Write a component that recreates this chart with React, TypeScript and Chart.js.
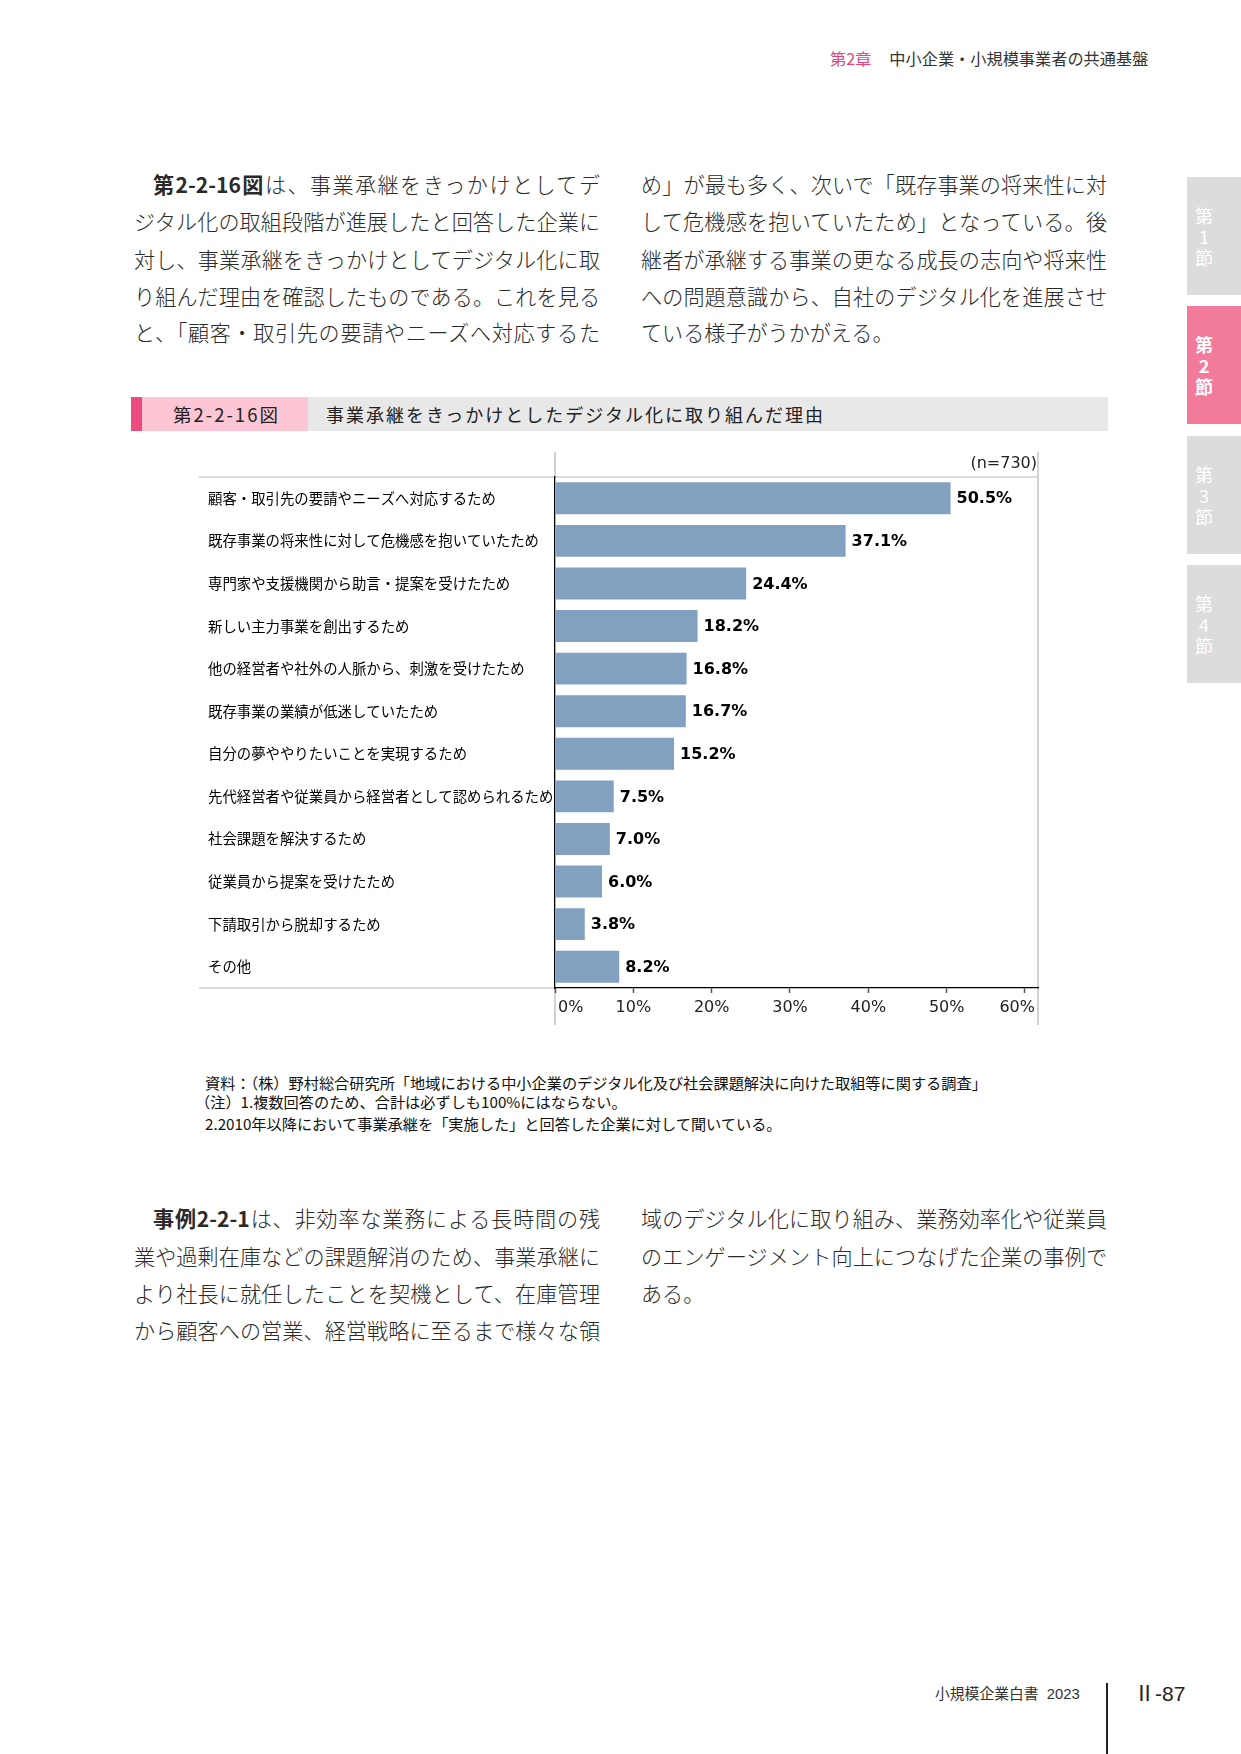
import React, { useEffect, useRef } from "react";
import { Chart, registerables } from "chart.js";

Chart.register(...registerables);

const categories = [
  "顧客・取引先の要請やニーズへ対応するため",
  "既存事業の将来性に対して危機感を抱いていたため",
  "専門家や支援機関から助言・提案を受けたため",
  "新しい主力事業を創出するため",
  "他の経営者や社外の人脈から、刺激を受けたため",
  "既存事業の業績が低迷していたため",
  "自分の夢ややりたいことを実現するため",
  "先代経営者や従業員から経営者として認められるため",
  "社会課題を解決するため",
  "従業員から提案を受けたため",
  "下請取引から脱却するため",
  "その他",
];
const values = [50.5, 37.1, 24.4, 18.2, 16.8, 16.7, 15.2, 7.5, 7.0, 6.0, 3.8, 8.2];
const xTickValues = [0, 10, 20, 30, 40, 50, 60];
const sampleNote = "(n=730)";

const para1Left = [
  "ジタル化の取組段階が進展したと回答した企業に",
  "対し、事業承継をきっかけとしてデジタル化に取",
  "り組んだ理由を確認したものである。これを見る",
  "と、「顧客・取引先の要請やニーズへ対応するた",
];
const para1Right = [
  "め」が最も多く、次いで「既存事業の将来性に対",
  "して危機感を抱いていたため」となっている。後",
  "継者が承継する事業の更なる成長の志向や将来性",
  "への問題意識から、自社のデジタル化を進展させ",
  "ている様子がうかがえる。",
];
const para2Left = [
  "業や過剰在庫などの課題解消のため、事業承継に",
  "より社長に就任したことを契機として、在庫管理",
  "から顧客への営業、経営戦略に至るまで様々な領",
];
const para2Right = [
  "域のデジタル化に取り組み、業務効率化や従業員",
  "のエンゲージメント向上につなげた企業の事例で",
  "ある。",
];
const notes = [
  "資料：（株）野村総合研究所「地域における中小企業のデジタル化及び社会課題解決に向けた取組等に関する調査」",
  "（注）1.複数回答のため、合計は必ずしも100%にはならない。",
  "2.2010年以降において事業承継を「実施した」と回答した企業に対して聞いている。",
];

const JP = '"Noto Sans CJK JP", sans-serif';
const LH = 37.2;

function Line(props: { x: number; y: number; full?: boolean; children: React.ReactNode; indent?: number }) {
  return (
    <div
      style={{
        position: "absolute",
        left: props.x,
        top: props.y - LH / 2,
        width: 466,
        paddingLeft: props.indent || 0,
        boxSizing: "border-box",
        fontSize: 21.1,
        fontWeight: 300,
        lineHeight: LH + "px",
        whiteSpace: "nowrap",
        textAlign: props.full === false ? "left" : "justify",
        textAlignLast: props.full === false ? "left" : "justify",
        color: "#2a2a2a",
      } as React.CSSProperties}
    >
      {props.children}
    </div>
  );
}

function Tab(props: { top: number; num: string; active?: boolean }) {
  return (
    <div
      style={{
        position: "absolute",
        left: 1187,
        top: props.top,
        width: 54,
        height: 118,
        background: props.active ? "#f27b9c" : "#dcdcdc",
        display: "flex",
        alignItems: "center",
      }}
    >
      <div
        style={{
          marginLeft: 8,
          width: 18,
          textAlign: "center",
          color: "#fff",
          fontSize: 18,
          lineHeight: "21px",
          fontWeight: props.active ? 700 : 400,
        }}
      >
        <div>第</div>
        <div>{props.num}</div>
        <div>節</div>
      </div>
    </div>
  );
}

const framePlugin = {
  id: "frame",
  beforeDraw(chart: any) {
    const ctx = chart.ctx;
    const a = chart.chartArea;
    ctx.save();
    ctx.strokeStyle = "#d2d2d2";
    ctx.lineWidth = 2;
    ctx.beginPath();
    ctx.moveTo(a.left, a.top - 25);
    ctx.lineTo(a.left, a.top);
    ctx.moveTo(a.left, a.bottom);
    ctx.lineTo(a.left, a.bottom + 37);
    ctx.moveTo(a.right, a.top - 25);
    ctx.lineTo(a.right, a.bottom + 37);
    ctx.stroke();
    ctx.lineWidth = 1.5;
    ctx.beginPath();
    ctx.moveTo(9, a.top);
    ctx.lineTo(a.right, a.top);
    ctx.moveTo(9, a.bottom);
    ctx.lineTo(a.left, a.bottom);
    ctx.stroke();
    ctx.restore();
  },
  afterDraw(chart: any) {
    const ctx = chart.ctx;
    const a = chart.chartArea;
    const xs = chart.scales.x;
    ctx.save();
    ctx.fillStyle = "#222";
    ctx.font = '16px "DejaVu Sans"';
    ctx.textBaseline = "middle";
    ctx.textAlign = "right";
    ctx.fillText(sampleNote, a.right - 1, a.top - 13);
    const ticks = xs.ticks;
    ticks.forEach((t: any, i: number) => {
      const px = xs.getPixelForValue(t.value);
      let x = px;
      let align: CanvasTextAlign = "center";
      if (i === 0) {
        align = "left";
        x = px + 3;
      } else if (i === ticks.length - 1) {
        align = "right";
        x = a.right - 3;
      }
      ctx.textAlign = align;
      ctx.fillText(t.value + "%", x, a.bottom + 20);
    });
    ctx.restore();
  },
};

const valueLabelPlugin = {
  id: "valueLabels",
  afterDatasetsDraw(chart: any) {
    const ctx = chart.ctx;
    const meta = chart.getDatasetMeta(0);
    ctx.save();
    ctx.font = 'bold 16px "DejaVu Sans"';
    ctx.fillStyle = "#000";
    ctx.textAlign = "left";
    ctx.textBaseline = "middle";
    meta.data.forEach((el: any, i: number) => {
      ctx.fillText(values[i].toFixed(1) + "%", el.x + 6, el.y + 1);
    });
    ctx.restore();
  },
};

function BarChart() {
  const ref = useRef<HTMLCanvasElement>(null);
  useEffect(() => {
    const canvas = ref.current!;
    const chart = new Chart(canvas, {
      type: "bar",
      data: {
        labels: categories,
        datasets: [
          {
            data: values,
            backgroundColor: "#82a1c1",
            borderWidth: 0,
            barPercentage: 0.75,
            categoryPercentage: 1,
          },
        ],
      },
      options: {
        indexAxis: "y",
        responsive: false,
        animation: false,
        devicePixelRatio: 1,
        layout: { padding: { left: 18, top: 37, right: 12, bottom: 12 } },
        plugins: { legend: { display: false }, tooltip: { enabled: false } },
        scales: {
          x: {
            min: 0,
            max: 61.66,
            afterBuildTicks: (s: any) => {
              s.ticks = xTickValues.map((v) => ({ value: v }));
            },
            afterFit: (s: any) => {
              s.height = 40;
            },
            grid: {
              drawOnChartArea: false,
              drawTicks: true,
              tickLength: 5,
              tickColor: "#555",
              tickWidth: 1.5,
            },
            border: { color: "#000", width: 1.3 },
            ticks: { display: false },
          },
          y: {
            afterFit: (s: any) => {
              s.width = 347;
            },
            grid: { display: false },
            border: { color: "#000", width: 1.3 },
            ticks: {
              crossAlign: "far",
              padding: 0,
              color: "#000",
              font: { family: '"Noto Sans CJK JP"', size: 14.4 },
            },
          },
        },
      } as any,
      plugins: [framePlugin, valueLabelPlugin],
    });
    return () => chart.destroy();
  }, []);
  return (
    <canvas
      ref={ref}
      width={860}
      height={600}
      style={{ position: "absolute", left: 190, top: 440, width: 860, height: 600 }}
    />
  );
}

export default function App() {
  const ys1 = [185, 222, 260, 297, 333];
  const ys2 = [1219, 1257, 1294, 1331];
  return (
    <div
      style={{
        position: "absolute",
        left: 0,
        top: 0,
        width: 1241,
        height: 1754,
        background: "#fff",
        fontFamily: JP,
        overflow: "hidden",
      }}
    >
      {/* header */}
      <div style={{ position: "absolute", left: 830, top: 47, fontSize: 16.2, lineHeight: "22px", whiteSpace: "nowrap" }}>
        <span style={{ color: "#e8437a" }}>第2章</span>
        <span style={{ color: "#333", marginLeft: 18 }}>中小企業・小規模事業者の共通基盤</span>
      </div>

      {/* side tabs */}
      <Tab top={177} num="1" />
      <Tab top={306} num="2" active />
      <Tab top={436} num="3" />
      <Tab top={565} num="4" />

      {/* paragraph 1 */}
      <Line x={134} y={ys1[0]} indent={19}>
        <b style={{ fontWeight: 700 }}>第2-2-16図</b>は、事業承継をきっかけとしてデ
      </Line>
      {para1Left.map((t, i) => (
        <Line key={"l" + i} x={134} y={ys1[i + 1]}>
          {t}
        </Line>
      ))}
      {para1Right.map((t, i) => (
        <Line key={"r" + i} x={641} y={ys1[i]} full={i < para1Right.length - 1}>
          {t}
        </Line>
      ))}

      {/* figure title bar */}
      <div style={{ position: "absolute", left: 131, top: 397, width: 977, height: 34, background: "#e8e8e8" }} />
      <div style={{ position: "absolute", left: 131, top: 397, width: 11, height: 34, background: "#ec4a80" }} />
      <div style={{ position: "absolute", left: 142, top: 397, width: 166, height: 34, background: "#fcc6d5" }} />
      <div style={{ position: "absolute", left: 173, top: 397, height: 34, lineHeight: "34px", fontSize: 18.5, color: "#222", letterSpacing: 2, whiteSpace: "nowrap" }}>
        第2-2-16図
      </div>
      <div style={{ position: "absolute", left: 326, top: 397, height: 34, lineHeight: "34px", fontSize: 18, color: "#222", letterSpacing: 2, whiteSpace: "nowrap" }}>
        事業承継をきっかけとしたデジタル化に取り組んだ理由
      </div>

      <BarChart />

      {/* notes */}
      <div style={{ position: "absolute", left: 205, top: 1071, fontSize: 15.2, lineHeight: "22px", color: "#111", whiteSpace: "nowrap" }}>
        {notes[0]}
      </div>
      <div style={{ position: "absolute", left: 195, top: 1090, fontSize: 15.2, lineHeight: "22px", color: "#111", whiteSpace: "nowrap" }}>
        {notes[1]}
      </div>
      <div style={{ position: "absolute", left: 205, top: 1112, fontSize: 15.2, lineHeight: "22px", color: "#111", whiteSpace: "nowrap" }}>
        {notes[2]}
      </div>

      {/* paragraph 2 */}
      <Line x={134} y={ys2[0]} indent={19}>
        <b style={{ fontWeight: 700 }}>事例2-2-1</b>は、非効率な業務による長時間の残
      </Line>
      {para2Left.map((t, i) => (
        <Line key={"l2" + i} x={134} y={ys2[i + 1]}>
          {t}
        </Line>
      ))}
      {para2Right.map((t, i) => (
        <Line key={"r2" + i} x={641} y={ys2[i]} full={i < para2Right.length - 1}>
          {t}
        </Line>
      ))}

      {/* footer */}
      <div
        style={{
          position: "absolute",
          left: 935,
          top: 1683,
          fontSize: 14.8,
          lineHeight: "22px",
          color: "#333",
          whiteSpace: "nowrap",
          fontFamily: '"Liberation Sans", "Noto Sans CJK JP", sans-serif',
        }}
      >
        小規模企業白書&nbsp;&nbsp;2023
      </div>
      <div style={{ position: "absolute", left: 1106, top: 1683, width: 1.5, height: 71, background: "#222" }} />
      <div
        style={{
          position: "absolute",
          left: 1134,
          top: 1680,
          fontSize: 21,
          lineHeight: "28px",
          color: "#222",
          whiteSpace: "nowrap",
          fontFamily: '"Liberation Sans", "Noto Sans CJK JP", sans-serif',
        }}
      >
        Ⅱ-87
      </div>
    </div>
  );
}
